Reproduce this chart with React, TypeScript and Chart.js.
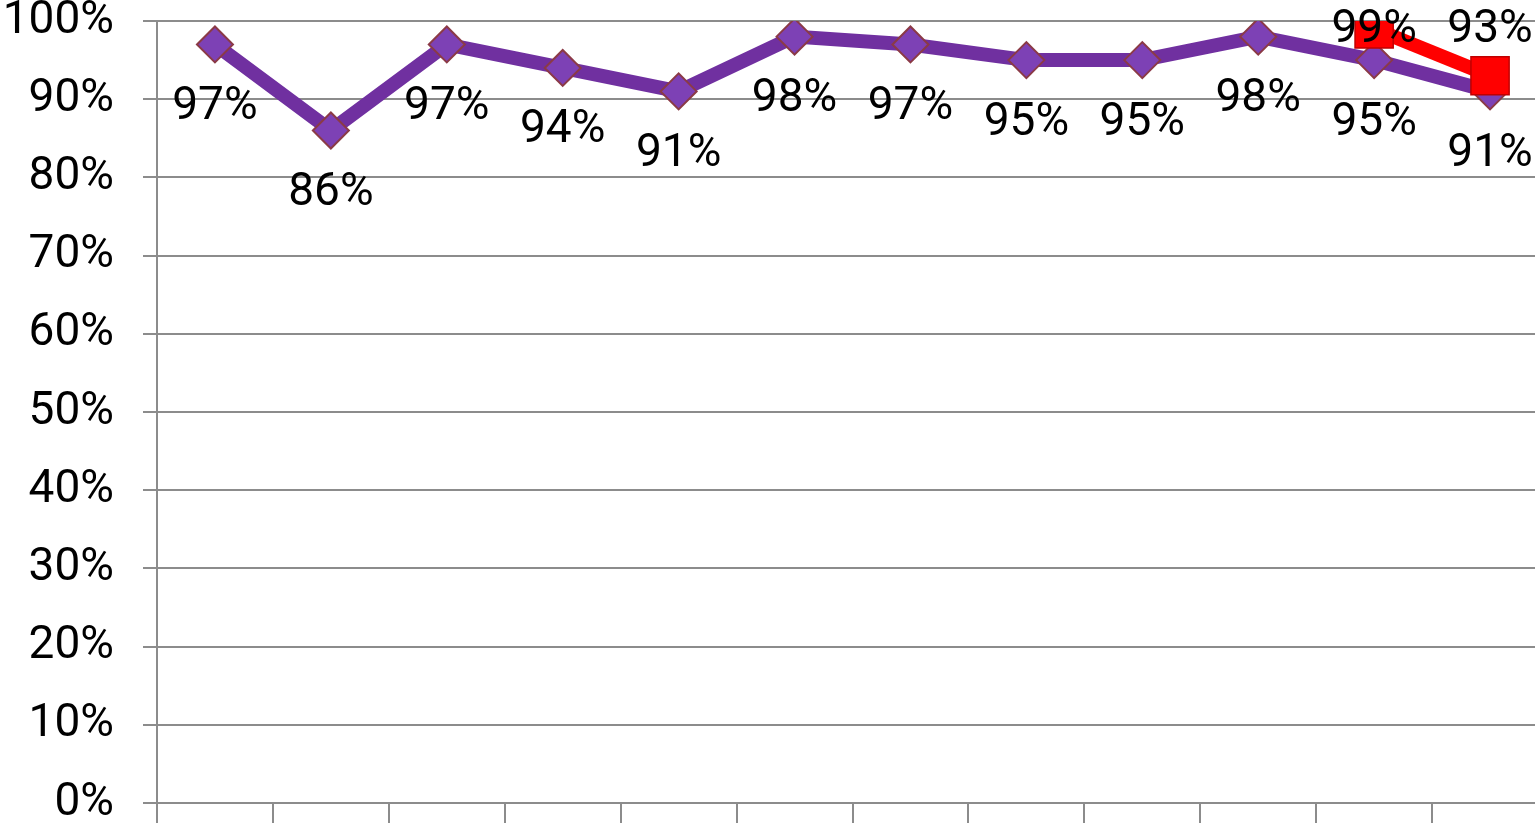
import React, { useEffect, useRef } from "react";
import { Chart, registerables } from "chart.js";

Chart.register(...registerables);

const categories: string[] = ["1", "2", "3", "4", "5", "6", "7", "8", "9", "10", "11", "12"];
const purpleValues: (number | null)[] = [0.97, 0.86, 0.97, 0.94, 0.91, 0.98, 0.97, 0.95, 0.95, 0.98, 0.95, 0.91];
const redValues: (number | null)[] = [null, null, null, null, null, null, null, null, null, null, 0.99, 0.93];
const yTicks: number[] = [0, 0.1, 0.2, 0.3, 0.4, 0.5, 0.6, 0.7, 0.8, 0.9, 1];

const FONT_FAMILY = "Roboto, 'Open Sans', sans-serif";
const FONT_SIZE = 46;
const GRID = "#8c8c8c";

const labelPlugin = {
  id: "pointLabels",
  afterDatasetsDraw(chart: any) {
    const ctx = chart.ctx as CanvasRenderingContext2D;
    ctx.save();
    ctx.font = `${FONT_SIZE}px ${FONT_FAMILY}`;
    ctx.fillStyle = "#000";
    ctx.textAlign = "center";
    ctx.textBaseline = "middle";
    chart.data.datasets.forEach((ds: any, i: number) => {
      const meta = chart.getDatasetMeta(i);
      meta.data.forEach((pt: any, j: number) => {
        const v = ds.data[j];
        if (v === null || v === undefined) return;
        let y: number;
        if (ds.labelPos === "above") {
          y = Math.max(pt.y - 46, chart.chartArea.top + 9);
        } else {
          y = pt.y + 63;
        }
        ctx.fillText(Math.round(v * 100) + "%", pt.x, y);
      });
    });
    ctx.restore();
  },
};

export default function App() {
  const ref = useRef<HTMLCanvasElement | null>(null);

  useEffect(() => {
    if (!ref.current) return;
    const chart = new Chart(ref.current, {
      type: "line",
      data: {
        labels: categories,
        datasets: [
          {
            label: "A",
            data: purpleValues,
            borderColor: "#7030A0",
            borderWidth: 14,
            pointStyle: "rectRot",
            pointRadius: 18,
            pointBackgroundColor: "#7D41B5",
            pointBorderColor: "#8B3A46",
            pointBorderWidth: 2,
            order: 1,
            labelPos: "below",
          } as any,
          {
            label: "B",
            data: redValues,
            borderColor: "#FF0000",
            borderWidth: 14,
            pointStyle: "rect",
            pointRadius: 27,
            pointBackgroundColor: "#FF0000",
            pointBorderColor: "#C00000",
            pointBorderWidth: 1.5,
            order: 0,
            labelPos: "above",
          } as any,
        ],
      },
      options: {
        responsive: false,
        animation: false,
        devicePixelRatio: 1,
        layout: { autoPadding: false, padding: { top: 21, right: 12, left: 0, bottom: 0 } },
        plugins: { legend: { display: false }, tooltip: { enabled: false } },
        scales: {
          x: {
            offset: true,
            afterFit(scale: any) {
              scale.paddingLeft = 0;
              scale.paddingRight = 0;
            },
            grid: {
              display: true,
              offset: true,
              drawOnChartArea: false,
              drawTicks: true,
              tickLength: 20,
              color: GRID,
              lineWidth: 2,
            },
            border: { display: true, color: GRID, width: 2 },
            ticks: { display: false },
          },
          y: {
            min: 0,
            max: 1,
            afterFit(scale: any) {
              scale.width = 157;
              scale.paddingTop = 0;
              scale.paddingBottom = 0;
            },
            afterBuildTicks(scale: any) {
              scale.ticks = yTicks.map((v) => ({ value: v }));
            },
            grid: {
              color: GRID,
              lineWidth: 2,
              tickLength: 14,
            },
            border: { display: true, color: GRID, width: 2 },
            ticks: {
              padding: 29,
              color: "#000",
              font: { family: FONT_FAMILY, size: FONT_SIZE },
              callback: (v: any) => Math.round(Number(v) * 100) + "%",
            },
          },
        },
      },
      plugins: [labelPlugin],
    });
    return () => chart.destroy();
  }, []);

  return (
    <div
      style={{
        position: "fixed",
        left: 0,
        top: 0,
        width: 1535,
        height: 823,
        overflow: "hidden",
        background: "#fff",
      }}
    >
      <canvas ref={ref} width={1560} height={823} style={{ width: 1560, height: 823, display: "block" }} />
    </div>
  );
}
